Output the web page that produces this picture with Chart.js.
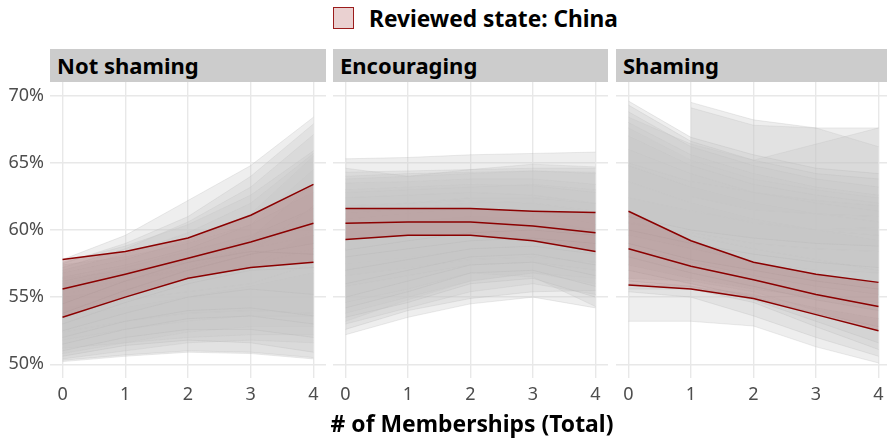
<!DOCTYPE html>
<html><head><meta charset="utf-8">
<script src="https://cdn.jsdelivr.net/npm/chart.js@4"></script>
<style>
html,body{margin:0;padding:0;background:#fff;overflow:hidden;width:887px;height:443px}
body{position:relative;font-family:"Noto Sans",sans-serif}
canvas{position:absolute}
.strip{position:absolute;top:49px;height:33px;background:#cccccc;font-weight:700;font-size:22px;line-height:33px;padding-left:7px;box-sizing:border-box;color:#000;white-space:nowrap;overflow:hidden}
#legend{position:absolute;left:333px;top:4px;height:28px;display:flex;align-items:center}
#legend .sw{width:19px;height:20px;background:rgba(139,0,0,0.18);border:1.5px solid #9b1c1c;margin-right:15px}
#legend .tx{font-weight:700;font-size:22.7px;color:#000}
#xtitle{position:absolute;left:0;width:944px;top:408px;text-align:center;font-weight:700;font-size:22.9px;color:#000}
</style>
</head><body>
<div id="legend"><div class="sw"></div><div class="tx">Reviewed state: China</div></div>
<div class="strip" style="left:50px;width:276px">Not shaming</div>
<div class="strip" style="left:333px;width:275px">Encouraging</div>
<div class="strip" style="left:616px;width:275px">Shaming</div>
<canvas id="c0" width="326" height="330" style="left:0;top:82px"></canvas>
<canvas id="c1" width="275" height="330" style="left:333px;top:82px"></canvas>
<canvas id="c2" width="275" height="330" style="left:616px;top:82px"></canvas>
<div id="xtitle"># of Memberships (Total)</div>
<script>
const xValues = [0, 1, 2, 3, 4];
const yTicks = [50, 55, 60, 65, 70];
const panelTitles = ["Not shaming", "Encouraging", "Shaming"];

// China (reviewed state)
const chinaNotShamingLow  = [53.5, 55.0, 56.4, 57.2, 57.6];
const chinaNotShamingMid  = [55.6, 56.7, 57.9, 59.1, 60.5];
const chinaNotShamingHigh = [57.8, 58.4, 59.4, 61.1, 63.4];
const chinaEncouragingLow  = [59.3, 59.6, 59.6, 59.2, 58.4];
const chinaEncouragingMid  = [60.5, 60.6, 60.6, 60.3, 59.8];
const chinaEncouragingHigh = [61.6, 61.6, 61.6, 61.4, 61.3];
const chinaShamingLow  = [55.9, 55.6, 54.9, 53.7, 52.5];
const chinaShamingMid  = [58.6, 57.3, 56.3, 55.2, 54.3];
const chinaShamingHigh = [61.4, 59.2, 57.6, 56.7, 56.1];

// Other states (grey ribbons)
const otherNotShamingLow = [
  [54.5,56.2,57.6,58.4,58.2],[53.8,55.5,57.0,58.2,59.0],[53.0,54.6,56.0,57.0,57.2],[52.5,53.8,55.0,55.6,55.2],
  [52.0,53.2,54.0,54.2,53.6],[51.5,52.6,53.4,53.6,53.0],[51.0,52.0,52.6,52.6,52.0],[50.6,51.4,51.8,51.6,50.9],
  [50.3,50.7,51.0,50.9,50.5],[50.2,50.6,50.9,50.8,50.4],[51.2,51.6,52.0,52.2,52.2],[52.4,53.2,53.8,54.0,53.8],
  [50.8,51.6,52.4,52.8,52.8],[53.5,54.8,56.2,57.4,58.6],[50.4,51.0,51.6,51.8,51.6],[51.8,52.6,53.2,53.6,53.6]
];
const otherNotShamingHigh = [
  [57.8,59.6,62.2,64.8,68.4],[57.5,59.0,61.0,64.0,67.9],[57.2,58.6,60.6,63.2,67.1],[57.0,58.2,59.8,62.0,65.7],
  [56.8,57.8,59.2,61.2,65.5],[56.5,57.4,58.6,60.4,64.5],[56.0,56.8,57.8,59.4,63.5],[55.5,56.2,57.0,58.2,61.8],
  [55.0,55.6,56.2,57.2,60.0],[54.2,54.8,55.4,56.0,57.5],[53.5,54.2,55.0,55.8,56.8],[56.2,57.2,58.4,59.6,61.6],
  [57.4,58.0,59.0,60.4,62.8],[57.6,58.8,60.4,62.6,65.9],[56.4,57.0,57.6,58.6,59.6],[55.2,56.2,57.2,58.6,60.8]
];
const otherEncouragingLow = [
  [58.5,59.2,59.8,60.0,59.6],[58.0,58.6,59.2,59.4,59.0],[57.0,57.8,58.6,58.8,58.2],[56.0,57.0,58.0,58.2,57.4],
  [55.0,56.2,57.4,57.6,56.6],[54.2,55.4,56.8,57.0,55.8],[53.5,54.6,56.0,56.4,55.0],[52.6,54.0,54.9,55.4,55.5],
  [52.2,53.5,54.5,55.0,54.2],[53.0,54.2,55.4,56.0,55.2],[54.6,55.6,56.8,56.5,54.3],[55.8,56.6,57.4,57.6,57.0],
  [57.5,58.0,58.6,58.8,58.6],[53.8,55.0,56.2,56.8,56.0],[56.6,57.2,57.8,58.0,57.6],[53.2,54.8,56.2,56.8,56.4]
];
const otherEncouragingHigh = [
  [65.3,65.4,65.6,65.7,65.8],[64.6,64.0,64.5,64.9,64.7],[64.3,64.4,64.5,64.6,64.6],[64.0,64.2,64.3,64.4,64.2],
  [63.5,63.6,63.8,63.8,63.4],[63.0,63.2,63.4,63.3,62.8],[62.4,62.6,62.8,62.6,62.0],[61.8,62.0,62.2,62.0,61.2],
  [60.8,61.2,61.6,61.4,60.4],[60.0,60.6,61.0,60.8,59.8],[59.8,60.4,61.0,60.8,60.0],[62.8,63.0,63.2,63.4,63.0],
  [63.8,64.0,64.2,64.4,64.3],[61.2,61.6,62.0,62.0,61.4],[61.6,62.0,62.4,62.4,62.0],[58.6,59.4,60.2,60.4,59.8]
];
const otherShamingLow = [
  [61.0,60.0,59.4,59.0,58.8],[60.0,59.0,58.2,57.6,57.2],[59.0,57.8,57.0,56.2,55.6],[58.0,56.8,55.8,54.8,54.0],
  [57.0,56.0,55.0,53.8,52.8],[56.2,55.8,54.8,53.2,51.6],[55.6,55.6,54.6,52.8,51.1],[55.4,55.0,53.6,52.0,50.6],
  [53.2,53.2,52.85,51.3,50.1],[58.6,57.6,56.6,55.8,55.2],[null,61.5,60.5,60.0,60.2],[null,62.5,61.5,61.2,61.0],
  [60.5,59.8,59.0,58.6,58.4],[57.4,56.4,55.6,55.0,54.6],[56.4,56.2,55.4,54.0,52.6],[59.6,58.6,57.6,57.0,56.8]
];
const otherShamingHigh = [
  [69.6,66.9,65.6,64.6,64.2],[69.3,66.6,65.2,64.2,63.8],[68.8,66.2,64.8,63.8,63.2],[68.0,65.6,64.2,63.2,62.6],
  [67.0,64.8,63.4,62.6,62.0],[66.0,64.2,62.8,62.0,61.4],[64.8,63.2,62.0,61.2,60.6],[63.6,62.0,60.8,60.0,59.2],
  [56.0,55.8,55.2,54.2,53.4],[65.0,63.6,62.8,62.2,61.8],[null,69.5,68.2,67.6,67.6],[null,69.1,67.8,67.6,66.2],
  [68.4,66.4,65.2,66.4,67.6],[62.4,61.4,60.6,60.0,59.6],[60.6,59.6,58.6,57.8,57.0],[67.6,65.2,63.8,63.0,62.4]
];

const panels = [
  {grayLo: otherNotShamingLow, grayHi: otherNotShamingHigh, lo: chinaNotShamingLow, mid: chinaNotShamingMid, hi: chinaNotShamingHigh},
  {grayLo: otherEncouragingLow, grayHi: otherEncouragingHigh, lo: chinaEncouragingLow, mid: chinaEncouragingMid, hi: chinaEncouragingHigh},
  {grayLo: otherShamingLow, grayHi: otherShamingHigh, lo: chinaShamingLow, mid: chinaShamingMid, hi: chinaShamingHigh}
];

const FONT = '"Noto Sans", sans-serif';
const RED = '#8b0000';
const pts = arr => xValues.map((x, i) => ({x: x, y: arr[i]}));

function buildDatasets(p) {
  const ds = [];
  const base = {pointRadius: 0, tension: 0, spanGaps: false};
  ds.push(Object.assign({}, base, {data: pts(p.mid), borderColor: RED, borderWidth: 1.5, fill: false, order: 0}));
  ds.push(Object.assign({}, base, {data: pts(p.lo), borderColor: RED, borderWidth: 1.5, fill: false, order: 0}));
  ds.push(Object.assign({}, base, {data: pts(p.hi), borderColor: RED, borderWidth: 1.5, fill: '-1', backgroundColor: 'rgba(139,0,0,0.17)', order: 0}));
  p.grayLo.forEach((lo, i) => {
    ds.push(Object.assign({}, base, {data: pts(lo), borderColor: 'rgba(175,175,175,0.3)', borderWidth: 0.8, fill: false, order: 1}));
    ds.push(Object.assign({}, base, {data: pts(p.grayHi[i]), borderColor: 'rgba(175,175,175,0.3)', borderWidth: 0.8, fill: '-1', backgroundColor: 'rgba(200,200,200,0.3)', order: 1}));
  });
  return ds;
}

function zeroPad(s) { s.paddingTop = 0; s.paddingBottom = 0; s.paddingLeft = 0; s.paddingRight = 0; }

const AREA_H = 296;
panels.forEach((p, k) => {
  const first = k === 0;
  new Chart(document.getElementById('c' + k), {
    type: 'line',
    data: {datasets: buildDatasets(p)},
    options: {
      responsive: false, animation: false, devicePixelRatio: 1,
      layout: {padding: 0, autoPadding: false},
      plugins: {legend: {display: false}, tooltip: {enabled: false}, filler: {propagate: false}},
      scales: {
        x: {
          type: 'linear', min: -0.2, max: 4.2,
          afterBuildTicks: s => { s.ticks = xValues.map(v => ({value: v})); },
          afterFit: s => { s.height = 330 - AREA_H; zeroPad(s); },
          ticks: {color: '#4d4d4d', padding: 6, font: {family: FONT, size: 18}, callback: v => String(v), maxRotation: 0, autoSkip: false},
          grid: {color: '#e8e8e8', lineWidth: 1.4, drawTicks: false},
          border: {display: false}
        },
        y: {
          type: 'linear', min: 48.98, max: 71.02,
          afterBuildTicks: s => { s.ticks = yTicks.map(v => ({value: v})); },
          afterFit: s => { s.width = first ? 50 : 0; zeroPad(s); },
          ticks: {display: first, color: '#4d4d4d', padding: 6, font: {family: FONT, size: 18}, callback: v => v + '%'},
          grid: {color: '#e8e8e8', lineWidth: 1.4, drawTicks: false},
          border: {display: false}
        }
      }
    }
  });
});
</script>
</body></html>
